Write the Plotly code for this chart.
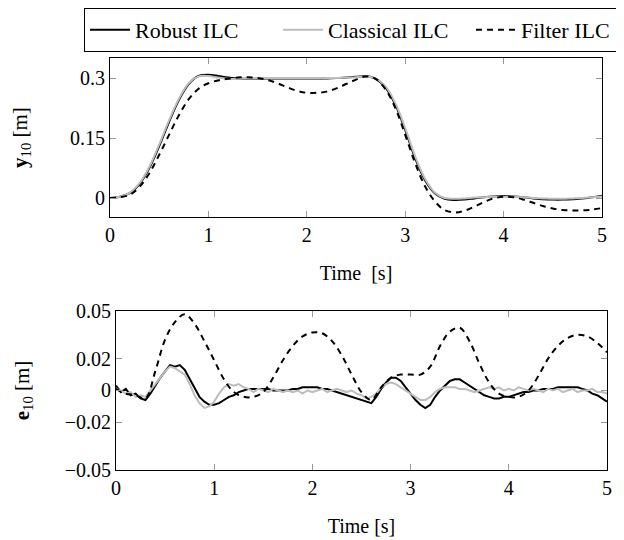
import plotly.graph_objects as go

# sampling grids
t_top = [round(i * 0.1, 2) for i in range(51)]
t_err = [round(i * 0.05, 2) for i in range(101)]
t_err_filter = [round(i * 0.1, 2) for i in range(51)]

# output y10 [m]
y_robust = [0.000, 0.003, 0.012, 0.035, 0.075, 0.130, 0.190, 0.245, 0.285, 0.305,
            0.308, 0.305, 0.301, 0.299, 0.298, 0.298, 0.298, 0.298, 0.298, 0.298,
            0.298, 0.298, 0.299, 0.300, 0.301, 0.303, 0.305, 0.298, 0.276, 0.233,
            0.170, 0.100, 0.045, 0.012, -0.002, -0.005, -0.004, -0.001, 0.002, 0.004,
            0.005, 0.004, 0.002, -0.001, -0.003, -0.004, -0.004, -0.003, -0.001, 0.002,
            0.006]
y_classical = [0.000, 0.003, 0.013, 0.037, 0.078, 0.134, 0.194, 0.248, 0.287, 0.304,
               0.305, 0.301, 0.298, 0.298, 0.299, 0.299, 0.299, 0.299, 0.299, 0.299,
               0.299, 0.299, 0.300, 0.300, 0.301, 0.302, 0.304, 0.299, 0.279, 0.237,
               0.175, 0.105, 0.049, 0.014, 0.000, -0.002, -0.001, 0.001, 0.002, 0.003,
               0.003, 0.003, 0.002, 0.000, -0.001, -0.002, -0.002, -0.001, 0.000, 0.002,
               0.004]
y_filter = [0.000, 0.002, 0.008, 0.028, 0.062, 0.108, 0.158, 0.207, 0.247, 0.273,
            0.287, 0.294, 0.298, 0.301, 0.302, 0.300, 0.295, 0.287, 0.277, 0.268,
            0.263, 0.263, 0.266, 0.274, 0.285, 0.296, 0.304, 0.298, 0.272, 0.225,
            0.158, 0.088, 0.030, -0.008, -0.030, -0.036, -0.032, -0.022, -0.010, -0.001,
            0.003, 0.002, -0.004, -0.012, -0.020, -0.026, -0.030, -0.031, -0.031, -0.029,
            -0.025]

# error e10 [m]
e_robust = [0.003, -0.001, 0.001, -0.003, -0.002, -0.005, -0.006, -0.002, 0.003, 0.008,
            0.012, 0.016, 0.015, 0.016, 0.013, 0.007, 0.001, -0.004, -0.007, -0.009,
            -0.009, -0.008, -0.006, -0.004, -0.003, -0.001, 0.000, 0.001, 0.001, 0.001,
            0.001, 0.001, 0.000, 0.000, 0.000, 0.000, 0.001, 0.001, 0.002, 0.002,
            0.002, 0.002, 0.001, 0.001, 0.000, -0.001, -0.002, -0.003, -0.004, -0.005,
            -0.006, -0.007, -0.008, -0.004, 0.001, 0.005, 0.008, 0.008, 0.006, 0.002,
            -0.002, -0.006, -0.009, -0.011, -0.009, -0.004, 0.000, 0.003, 0.006, 0.007,
            0.007, 0.005, 0.003, 0.001, -0.001, -0.003, -0.004, -0.005, -0.005, -0.004,
            -0.004, -0.003, -0.002, -0.001, -0.001, 0.000, 0.000, 0.001, 0.001, 0.001,
            0.002, 0.002, 0.002, 0.002, 0.002, 0.001, 0.000, -0.002, -0.003, -0.005,
            -0.007]
e_classical = [0.001, 0.000, -0.002, -0.001, -0.004, -0.003, -0.004, 0.000, 0.004, 0.008,
               0.012, 0.015, 0.014, 0.012, 0.010, 0.004, -0.003, -0.008, -0.011, -0.010,
               -0.007, -0.002, 0.002, 0.004, 0.003, 0.004, 0.002, 0.001, -0.001, 0.001,
               0.000, -0.001, 0.001, 0.000, -0.001, 0.000, -0.001, 0.000, -0.002, 0.000,
               -0.001, 0.000, 0.001, -0.001, 0.000, 0.001, 0.000, -0.001, 0.000, -0.002,
               -0.003, -0.005, -0.004, -0.002, 0.002, 0.004, 0.005, 0.004, 0.002, 0.000,
               -0.002, -0.004, -0.006, -0.006, -0.004, -0.001, 0.001, 0.002, 0.002, 0.002,
               0.001, 0.001, 0.000, -0.001, 0.000, 0.001, 0.002, 0.001, 0.002, 0.000,
               0.001, 0.000, 0.002, 0.001, 0.000, 0.001, 0.000, -0.001, 0.001, 0.000,
               0.001, -0.001, 0.000, 0.001, -0.001, 0.000, 0.000, 0.001, -0.001, -0.001,
               -0.002]
e_filter = [0.001, -0.002, -0.003, -0.005, 0.012, 0.032, 0.043, 0.048, 0.042, 0.031,
            0.019, 0.007, -0.001, -0.004, -0.004, -0.001, 0.008, 0.019, 0.028, 0.034,
            0.0365, 0.036, 0.031, 0.022, 0.010, -0.001, -0.006, 0.002, 0.008, 0.010,
            0.010, 0.010, 0.015, 0.028, 0.037, 0.0395, 0.031, 0.017, 0.005, -0.002,
            -0.004, -0.004, 0.000, 0.009, 0.020, 0.028, 0.033, 0.035, 0.034, 0.030,
            0.024]

top_ticks = [0, 0.15, 0.3]
top_ticktext = ["0", "0.15", "0.3"]
err_ticks = [-0.05, -0.02, 0, 0.02, 0.05]
err_ticktext = ["\u22120.05", "\u22120.02", "0", "0.02", "0.05"]
x_ticks = [0, 1, 2, 3, 4, 5]

FONT = "Liberation Serif, DejaVu Serif, Times New Roman, serif"
BLACK = "#000000"
GRAY = "#bdbdbd"

fig = go.Figure()

# top panel
fig.add_trace(go.Scatter(x=t_top, y=y_robust, mode="lines", name="Robust ILC",
                         line=dict(color=BLACK, width=2, shape="spline")))
fig.add_trace(go.Scatter(x=t_top, y=y_classical, mode="lines", name="Classical ILC",
                         line=dict(color=GRAY, width=2, shape="spline")))
fig.add_trace(go.Scatter(x=t_top, y=y_filter, mode="lines", name="Filter ILC",
                         line=dict(color=BLACK, width=2, dash="6px,5px", shape="spline")))

# bottom panel
fig.add_trace(go.Scatter(x=t_err, y=e_robust, mode="lines", showlegend=False,
                         xaxis="x2", yaxis="y2", line=dict(color=BLACK, width=2)))
fig.add_trace(go.Scatter(x=t_err, y=e_classical, mode="lines", showlegend=False,
                         xaxis="x2", yaxis="y2", line=dict(color=GRAY, width=2)))
fig.add_trace(go.Scatter(x=t_err_filter, y=e_filter, mode="lines", showlegend=False,
                         xaxis="x2", yaxis="y2",
                         line=dict(color=BLACK, width=2, dash="6px,5px", shape="spline")))

axis_style = dict(showgrid=False, zeroline=False, showline=True, linecolor=BLACK,
                  linewidth=1, mirror="ticks", ticks="inside", ticklen=6, automargin=False,
                  tickcolor="#999999", tickfont=dict(family=FONT, size=20, color=BLACK))
title_font = dict(family=FONT, size=20, color=BLACK)

# the page adds an 8px body margin, so the figure is sized to fit the window
fig.update_layout(
    width=616, height=532,
    margin=dict(l=0, r=0, t=0, b=0, autoexpand=False),
    paper_bgcolor="white", plot_bgcolor="white",
    font=dict(family=FONT, size=20, color=BLACK),
    xaxis=dict(axis_style, domain=[0.1656, 0.9643], anchor="y", range=[0, 5],
               tickvals=x_ticks,
               title=dict(text="Time  [s]", standoff=20, font=title_font)),
    yaxis=dict(axis_style, domain=[0.6071, 0.9060], anchor="x", range=[-0.0475, 0.35],
               tickvals=top_ticks, ticktext=top_ticktext,
               title=dict(text="<b>y</b><sub>10</sub> [m]", standoff=56,
                          font=dict(family=FONT, size=21, color=BLACK))),
    xaxis2=dict(axis_style, domain=[0.1753, 0.9724], anchor="y2", range=[0, 5],
                tickvals=x_ticks,
                title=dict(text="Time [s]", standoff=21, font=title_font)),
    yaxis2=dict(axis_style, domain=[0.1316, 0.4305], anchor="x2", range=[-0.05, 0.05],
                tickvals=err_ticks, ticktext=err_ticktext,
                title=dict(text="<b>e</b><sub>10</sub> [m]", standoff=29,
                           font=dict(family=FONT, size=21, color=BLACK))),
    legend=dict(orientation="h", x=0.1234, y=1.0, xanchor="left", yanchor="top",
                bordercolor=BLACK, borderwidth=1, bgcolor="white",
                font=dict(family=FONT, size=22, color=BLACK), itemwidth=40,
                entrywidth=138, entrywidthmode="pixels", tracegroupgap=0),
)

fig.write_html("out.html")
